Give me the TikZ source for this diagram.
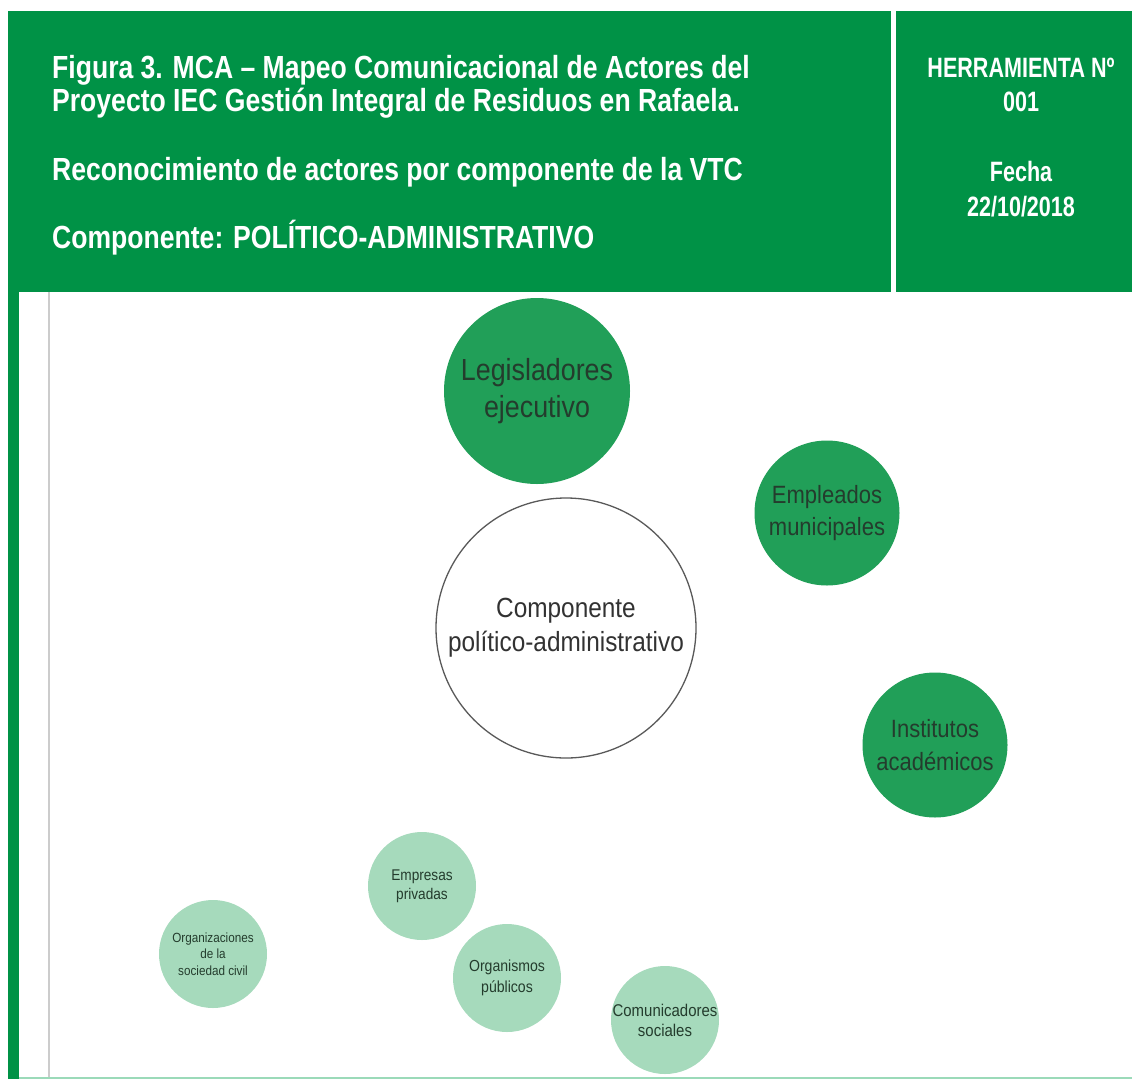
\documentclass[tikz,border=0pt]{standalone}
\usepackage{fontspec}
\setmainfont{Liberation Sans}
\newfontfamily\hdrfam[FakeStretch=0.83]{Liberation Sans}
\newfontfamily\hdrrfam[FakeStretch=0.77]{Liberation Sans}
\newfontfamily\circfam[FakeStretch=0.88]{Liberation Sans}
\definecolor{hdrgreen}{RGB}{0,146,70}
\definecolor{midgreen}{RGB}{33,159,88}
\definecolor{lightgreen}{RGB}{166,218,188}
\definecolor{mint}{RGB}{155,218,185}
\definecolor{circtext}{RGB}{36,60,45}
\definecolor{comptext}{RGB}{50,50,50}
\tikzset{
  hdrtext/.style={text=white, inner sep=0pt, font=\hdrfam\bfseries\fontsize{32}{36}\selectfont},
  hdrright/.style={text=white, inner sep=0pt, font=\hdrrfam\bfseries\fontsize{28}{32}\selectfont},
  bigactor/.style={circle, fill=midgreen, inner sep=0pt},
  smallactor/.style={circle, fill=lightgreen, inner sep=0pt},
  centerc/.style={circle, draw=black!65, line width=1.3pt, fill=white, inner sep=0pt},
  lbl/.style={align=center, inner sep=0pt, text=circtext},
}
\begin{document}
\begin{tikzpicture}[x=1pt,y=-1pt]
\useasboundingbox (0,0) rectangle (1132,1079);
% header
\fill[hdrgreen] (8,11) rectangle (891,292);
\fill[hdrgreen] (896,11) rectangle (1132,292);
\fill[hdrgreen] (8,292) rectangle (19,1079);
\draw[black!20, line width=2pt] (49,292) -- (49,1079);
\draw[mint, line width=2pt] (19,1077.5) -- (1132,1077.5);
\node[hdrtext, anchor=base west] (h1) at (52,78.5) {Figura 3. MCA – Mapeo Comunicacional de Actores del};
\node[hdrtext, anchor=base west] (h2) at (52,111.5) {Proyecto IEC Gestión Integral de Residuos en Rafaela.};
\node[hdrtext, anchor=base west] (h3) at (52,180) {Reconocimiento de actores por componente de la VTC};
\node[hdrtext, anchor=base west] (h4) at (52,248.5) {Componente: POLÍTICO-ADMINISTRATIVO};
\node[hdrright, anchor=base] (r1) at (1021,77.5) {HERRAMIENTA Nº};
\node[hdrright, anchor=base] (r2) at (1021,111) {001};
\node[hdrright, anchor=base] (r3) at (1021,181.5) {Fecha};
\node[hdrright, anchor=base] (r4) at (1021,216) {22/10/2018};
% circles
\node[bigactor, minimum size=186pt] (leg) at (537,391) {};
\node[lbl, font=\circfam\fontsize{30.5}{37}\selectfont] (legt) at (leg.center) {Legisladores\\ejecutivo};
\node[bigactor, minimum size=145pt] (emp) at (827,513) {};
\node[lbl, font=\circfam\fontsize{25}{32}\selectfont] (empt) at (emp.center) {Empleados\\municipales};
\node[centerc, minimum size=260pt] (comp) at (566,628) {};
\node[lbl, text=comptext, font=\circfam\fontsize{27.7}{34}\selectfont] (compt) at (comp.center) {Componente\\político-administrativo};
\node[bigactor, minimum size=145pt] (ins) at (935,745) {};
\node[lbl, font=\circfam\fontsize{25}{33}\selectfont] (inst) at (ins.center) {Institutos\\académicos};
\node[smallactor, minimum size=108pt] (epr) at (422,886) {};
\node[lbl, font=\circfam\fontsize{15.5}{19}\selectfont] (eprt) at (epr.center) {Empresas\\privadas};
\node[smallactor, minimum size=108pt] (org) at (213,954) {};
\node[lbl, font=\circfam\fontsize{13.3}{16.5}\selectfont] (orgt) at (org.center) {Organizaciones\\de la\\sociedad civil};
\node[smallactor, minimum size=108pt] (opu) at (507,978) {};
\node[lbl, font=\circfam\fontsize{16}{21}\selectfont] (oput) at (opu.center) {Organismos\\públicos};
\node[smallactor, minimum size=108pt] (com) at (665,1020) {};
\node[lbl, font=\circfam\fontsize{17}{20}\selectfont] (comt) at (com.center) {Comunicadores\\sociales};
\end{tikzpicture}
\end{document}
